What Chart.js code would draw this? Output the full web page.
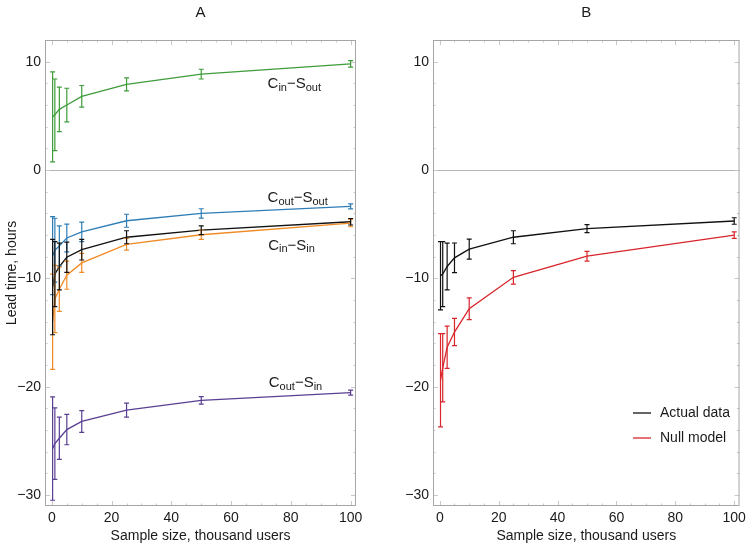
<!DOCTYPE html>
<html>
<head>
<meta charset="utf-8">
<script src="https://cdn.jsdelivr.net/npm/chart.js@4"></script>
<style>
  html, body { margin: 0; padding: 0; background: #fff; }
  #wrap { position: relative; width: 750px; height: 545px; }
  .panel { position: absolute; top: 0; width: 375px; height: 545px; }
</style>
</head>
<body>
<div id="wrap">
  <div class="panel" style="left:0"><canvas id="chartA"></canvas></div>
  <div class="panel" style="left:375px"><canvas id="chartB"></canvas></div>
</div>
<script>
// Lead time vs sample size — panel A (four pairs + average), panel B (actual vs null)

const sizes = [0.25, 1, 2.5, 5, 10, 25, 50, 100];   // thousand users

// panel A
const cinSout     = [4.9, 5.1, 5.6, 6.0, 6.8, 7.9, 8.85, 9.8];
const cinSoutErr  = [4.15, 3.3, 2.05, 1.55, 1.0, 0.6, 0.45, 0.3];
const coutSout    = [-7.9, -7.4, -7.0, -6.27, -5.7, -4.68, -4.0, -3.35];
const coutSoutErr = [3.6, 2.95, 1.85, 1.28, 0.9, 0.6, 0.43, 0.23];
const average     = [-10.8, -9.6, -8.9, -8.05, -7.35, -6.2, -5.55, -4.77];
const averageErr  = [4.4, 3.0, 2.15, 1.4, 0.95, 0.6, 0.4, 0.3];
const cinSin      = [-14.0, -11.9, -11.0, -9.7, -8.57, -6.85, -5.97, -4.89];
const cinSinErr   = [4.4, 3.1, 2.05, 1.3, 0.88, 0.54, 0.43, 0.34];
const coutSin     = [-25.7, -25.25, -24.75, -23.95, -23.2, -22.15, -21.25, -20.53];
const coutSinErr  = [4.77, 3.3, 1.95, 1.4, 1.0, 0.65, 0.35, 0.23];

// panel B
const actualData  = [-9.75, -9.6, -8.9, -8.1, -7.3, -6.2, -5.4, -4.7];
const actualErr   = [3.15, 3.0, 2.15, 1.37, 0.92, 0.6, 0.37, 0.3];
const nullModel   = [-19.4, -18.25, -16.35, -14.95, -12.8, -9.9, -7.95, -6.0];
const nullErr     = [4.3, 3.15, 1.95, 1.26, 1.0, 0.62, 0.45, 0.3];

const xTicks = [0, 20, 40, 60, 80, 100];
const yTicks = [-30, -20, -10, 0, 10];

const COL = {
  green: "#3f9c3a", blue: "#2f7db6", black: "#111111", orange: "#f08a24",
  purple: "#5a3e92", red: "#d8262c", text: "#1a1a1a", frame: "#a6a6a6", axis: "#b4b4b4",
};
const FONT = "'Liberation Sans', Arial, sans-serif";

Chart.defaults.font.family = FONT;
Chart.defaults.color = COL.text;

const minus = (v) => (v < 0 ? "\u2212" + Math.abs(v) : String(v));
const pts = (vals) => sizes.map((x, i) => ({ x, y: vals[i] }));
const series = (vals, errs, color) => ({
  type: "line", data: pts(vals), errors: errs,
  borderColor: color, backgroundColor: color, borderWidth: 1.3,
  pointRadius: 0, tension: 0, fill: false,
});

// zero axis line, frame with inward ticks, panel letter
const framePlugin = {
  id: "frame",
  beforeDatasetsDraw(chart) {
    const { ctx, chartArea: a, scales: { y } } = chart;
    const y0 = Math.round(y.getPixelForValue(0)) + 0.5;
    ctx.save();
    ctx.strokeStyle = COL.axis; ctx.lineWidth = 1;
    ctx.beginPath(); ctx.moveTo(a.left, y0); ctx.lineTo(a.right, y0); ctx.stroke();
    ctx.restore();
  },
  afterDraw(chart, args, opts) {
    const { ctx, chartArea: a, scales: { x, y } } = chart;
    ctx.save();
    ctx.strokeStyle = "#c8c8c8"; ctx.lineWidth = 1;
    ctx.beginPath();
    for (let v = 0; v <= 100; v += 5) {
      const px = Math.round(x.getPixelForValue(v)) + 0.5;
      const len = v % 20 === 0 ? 5 : 2.5;
      ctx.moveTo(px, a.bottom); ctx.lineTo(px, a.bottom - len);
      ctx.moveTo(px, a.top); ctx.lineTo(px, a.top + len);
    }
    for (let v = -30; v <= 12; v += 2) {
      const py = Math.round(y.getPixelForValue(v)) + 0.5;
      const len = v % 10 === 0 ? 5 : 2.5;
      ctx.moveTo(a.left, py); ctx.lineTo(a.left + len, py);
      ctx.moveTo(a.right, py); ctx.lineTo(a.right - len, py);
    }
    ctx.stroke();
    ctx.strokeStyle = COL.frame;
    ctx.strokeRect(a.left + 0.5, a.top + 0.5, a.right - a.left - 1, a.bottom - a.top - 1);
    ctx.fillStyle = COL.text;
    ctx.font = "15px " + FONT;
    ctx.textAlign = "center"; ctx.textBaseline = "middle";
    ctx.fillText(opts.letter, (a.left + a.right) / 2, 13);
    ctx.restore();
  },
};

// vertical error bars with small caps, drawn through the chart's own scales
const errorBarPlugin = {
  id: "errorBars",
  afterDatasetsDraw(chart) {
    const { ctx, scales: { x, y } } = chart;
    ctx.save();
    ctx.lineWidth = 1.2;
    chart.data.datasets.forEach((ds) => {
      if (!ds.errors) return;
      ctx.strokeStyle = ds.borderColor;
      ctx.beginPath();
      ds.data.forEach((p, i) => {
        const px = x.getPixelForValue(p.x);
        const top = y.getPixelForValue(p.y + ds.errors[i]);
        const bot = y.getPixelForValue(p.y - ds.errors[i]);
        ctx.moveTo(px, top); ctx.lineTo(px, bot);
        ctx.moveTo(px - 2.5, top); ctx.lineTo(px + 2.5, top);
        ctx.moveTo(px - 2.5, bot); ctx.lineTo(px + 2.5, bot);
      });
      ctx.stroke();
    });
    ctx.restore();
  },
};

// "C_in − S_out" style labels with subscripts
const drawPair = (ctx, x0, y0, parts) => {
  let cx = x0;
  parts.forEach(([txt, sub]) => {
    ctx.font = (sub ? "11px " : "15px ") + FONT;
    ctx.fillText(txt, cx, y0 + (sub ? 4 : 0));
    cx += ctx.measureText(txt).width;
  });
};
const pairLabels = {
  id: "pairLabels",
  afterDraw(chart, args, opts) {
    const { ctx, scales: { x, y } } = chart;
    ctx.save();
    ctx.fillStyle = COL.text; ctx.textAlign = "left"; ctx.textBaseline = "middle";
    opts.items.forEach((it) => {
      drawPair(ctx, x.getPixelForValue(it.x), y.getPixelForValue(it.y), it.parts);
    });
    ctx.restore();
  },
};

const legendB = {
  id: "legendB",
  afterDraw(chart, args, opts) {
    const { ctx, chartArea: a } = chart;
    ctx.save();
    ctx.font = "14px " + FONT; ctx.textAlign = "left"; ctx.textBaseline = "middle";
    opts.items.forEach((it, i) => {
      const ly = 413 + i * 25;
      ctx.strokeStyle = it.color; ctx.lineWidth = 1.3;
      ctx.beginPath(); ctx.moveTo(a.left + 200, ly); ctx.lineTo(a.left + 218, ly); ctx.stroke();
      ctx.fillStyle = COL.text;
      ctx.fillText(it.label, a.left + 227, ly);
    });
    ctx.restore();
  },
};

const makeOptions = (yWidth, padRight, yTitle) => ({
  responsive: true, maintainAspectRatio: false, animation: false,
  layout: { padding: { top: 40, right: padRight, left: 0, bottom: 0 } },
  plugins: { legend: { display: false }, tooltip: { enabled: false } },
  scales: {
    x: {
      type: "linear", min: -2.3, max: 101.8,
      grid: { display: false, drawTicks: false }, border: { display: false },
      afterBuildTicks: (s) => { s.ticks = xTicks.map((v) => ({ value: v })); },
      afterFit: (s) => { s.height = 39; },
      ticks: { padding: 4, font: { size: 14 }, color: COL.text, maxRotation: 0 },
      title: { display: true, text: "Sample size, thousand users", font: { size: 14 },
               color: COL.text, padding: { top: 4, bottom: 0 } },
    },
    y: {
      type: "linear", min: -31, max: 12,
      grid: { display: false, drawTicks: false }, border: { display: false },
      afterBuildTicks: (s) => { s.ticks = yTicks.map((v) => ({ value: v })); },
      afterFit: (s) => { s.width = yWidth; },
      ticks: { padding: 4, font: { size: 14 }, color: COL.text, callback: minus },
      title: { display: !!yTitle, text: yTitle || "", font: { size: 14 }, color: COL.text },
    },
  },
});

const optsA = makeOptions(45, 19, "Lead time, hours");
optsA.plugins.frame = { letter: "A" };
optsA.plugins.pairLabels = { items: [
  { x: 72.2, y: 7.97,   parts: [["C", 0], ["in", 1], ["\u2212", 0], ["S", 0], ["out", 1]] },
  { x: 72.2, y: -2.57,  parts: [["C", 0], ["out", 1], ["\u2212", 0], ["S", 0], ["out", 1]] },
  { x: 72.4, y: -6.95,  parts: [["C", 0], ["in", 1], ["\u2212", 0], ["S", 0], ["in", 1]] },
  { x: 72.6, y: -19.65, parts: [["C", 0], ["out", 1], ["\u2212", 0], ["S", 0], ["in", 1]] },
]};

new Chart(document.getElementById("chartA"), {
  data: { datasets: [
    series(cinSout, cinSoutErr, COL.green),
    series(coutSout, coutSoutErr, COL.blue),
    series(cinSin, cinSinErr, COL.orange),
    series(average, averageErr, COL.black),
    series(coutSin, coutSinErr, COL.purple),
  ]},
  options: optsA,
  plugins: [framePlugin, errorBarPlugin, pairLabels],
});

const optsB = makeOptions(58, 6, null);
optsB.plugins.frame = { letter: "B" };
optsB.plugins.legendB = { items: [
  { label: "Actual data", color: COL.black },
  { label: "Null model", color: COL.red },
]};

new Chart(document.getElementById("chartB"), {
  data: { datasets: [
    series(nullModel, nullErr, COL.red),
    series(actualData, actualErr, COL.black),
  ]},
  options: optsB,
  plugins: [framePlugin, errorBarPlugin, legendB],
});
</script>
</body>
</html>
